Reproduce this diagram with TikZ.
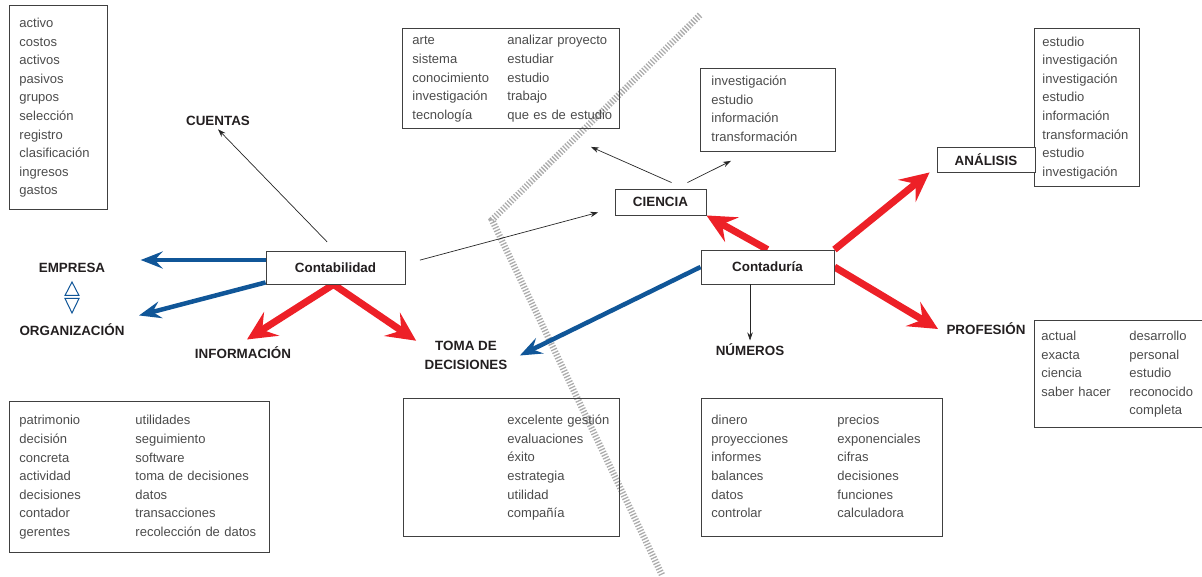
\documentclass[tikz,border=0pt]{standalone}
\usepackage{fontspec}
\setmainfont{Liberation Sans}
\usetikzlibrary{arrows.meta,backgrounds}

\definecolor{mapred}{RGB}{237,32,39}
\definecolor{mapblue}{RGB}{16,86,152}
\definecolor{listgray}{RGB}{75,75,75}
\definecolor{labelblack}{RGB}{35,31,32}

\tikzset{
  listbox/.style={draw=black!75, line width=0.9pt, anchor=north west,
    inner sep=0pt, align=left, text=listgray, font=\fontsize{13}{18.6}\selectfont},
  keybox/.style={draw=black!75, line width=0.9pt, fill=white, inner sep=0pt,
    text=labelblack, font=\bfseries\fontsize{13.4}{15}\selectfont},
  keyword/.style={text=labelblack, align=center, font=\bfseries\fontsize{13.4}{19}\selectfont},
  thin arrow/.style={-{Stealth[length=8pt,width=5.5pt]}, line width=0.7pt, black!85},
  red arrow/.style={-{Stealth[length=29pt,width=28pt,inset=11pt]}, line width=7pt, mapred},
  blue arrow/.style={-{Stealth[length=22pt,width=17pt,inset=8pt]}, line width=4.5pt, mapblue},
  cut line/.style={line width=6.5pt, gray!65, dash pattern=on 1.3pt off 1.7pt}
}

\begin{document}
\begin{tikzpicture}[x=1pt,y=-1pt]
  \useasboundingbox (0,0) rectangle (1202,577);

  % word lists
  \node[listbox, minimum width=98pt, minimum height=204pt, text width=78pt] (cuentaslist) at (9,5)
    {\begin{tabular}{@{}l@{}}activo\\costos\\activos\\pasivos\\grupos\\selección\\registro\\clasificación\\ingresos\\gastos\end{tabular}};
  \node[listbox, minimum width=217pt, minimum height=100pt, text width=197pt] (artlist) at (402,28)
    {\begin{tabular}{@{}p{95pt}@{}l@{}}arte & analizar proyecto\\sistema & estudiar\\conocimiento & estudio\\investigación & trabajo\\tecnología & que es de estudio\end{tabular}};
  \node[listbox, minimum width=135pt, minimum height=83pt, text width=113pt] (invlist) at (700,68)
    {\begin{tabular}{@{}l@{}}investigación\\estudio\\información\\transformación\end{tabular}};
  \node[listbox, minimum width=105pt, minimum height=158pt, text width=89pt] (analisislist) at (1034,28)
    {\begin{tabular}{@{}l@{}}estudio\\investigación\\investigación\\estudio\\información\\transformación\\estudio\\investigación\end{tabular}};
  \node[listbox, minimum width=167.5pt, minimum height=107pt, text width=153.5pt] (profesionlist) at (1034,320)
    {\begin{tabular}{@{}p{88pt}@{}l@{}}actual & desarrollo\\exacta & personal\\ciencia & estudio\\saber hacer & reconocido\\ & completa\end{tabular}};
  \node[listbox, minimum width=260pt, minimum height=151pt, text width=240pt] (patrimoniolist) at (9,401)
    {\begin{tabular}{@{}p{116pt}@{}l@{}}patrimonio & utilidades\\decisión & seguimiento\\concreta & software\\actividad & toma de decisiones\\decisiones & datos\\contador & transacciones\\gerentes & recolección de datos\end{tabular}};
  \node[listbox, minimum width=216pt, minimum height=138pt, text width=196pt] (gestionlist) at (403,398)
    {\begin{tabular}{@{}p{94pt}@{}l@{}} & excelente gestión\\ & evaluaciones\\ & éxito\\ & estrategia\\ & utilidad\\ & compañía\end{tabular}};
  \node[listbox, minimum width=241pt, minimum height=138pt, text width=221pt] (numeroslist) at (701,398)
    {\begin{tabular}{@{}p{126pt}@{}l@{}}dinero & precios\\proyecciones & exponenciales\\informes & cifras\\balances & decisiones\\datos & funciones\\controlar & calculadora\end{tabular}};

  % key boxes
  \node[keybox, minimum width=139pt, minimum height=33pt] (contab) at (335.5,267.5) {Contabilidad};
  \node[keybox, minimum width=133pt, minimum height=34pt] (contad) at (767.5,267) {Contaduría};
  \node[keybox, minimum width=91pt, minimum height=26pt] (ciencia) at (660.5,202) {CIENCIA};
  \node[keybox, minimum width=98pt, minimum height=25pt] (analisis) at (986,159.5) {ANÁLISIS};

  % labels
  \node[keyword] (cuentas) at (218,121) {CUENTAS};
  \node[keyword] (empresa) at (72,268) {EMPRESA};
  \node[keyword] (organizacion) at (72,330) {ORGANIZACIÓN};
  \node[keyword] (informacion) at (243,353) {INFORMACIÓN};
  \node[keyword] (tomadec) at (466,355.5) {TOMA DE\\DECISIONES};
  \node[keyword] (numeros) at (750,350) {NÚMEROS};
  \node[keyword] (profesion) at (986,329) {PROFESIÓN};

  \begin{scope}[on background layer]
    % the dividing cut
    \draw[cut line] (700,15) -- (492,220) -- (662,575);
    % thick arrows
    \draw[blue arrow] ([yshift=7.5pt]contab.west) -- ([xshift=32pt,yshift=8pt]empresa.east);
    \draw[blue arrow] ([yshift=2pt]contab.south west) -- ([xshift=11pt,yshift=5pt]organizacion.north east);
    \draw[red arrow] ([xshift=-2pt]contab.south) -- ([xshift=4pt,yshift=4pt]informacion.north);
    \draw[red arrow] ([xshift=-2pt]contab.south) -- ([xshift=-5pt,yshift=-3pt]tomadec.north west);
    \draw[blue arrow] (contad.west) -- ([xshift=9pt]tomadec.east);
    \draw[red arrow] (contad.north) -- (ciencia.south east);
    \draw[red arrow] (contad.north east) -- ([xshift=-7pt]analisis.south west);
    \draw[red arrow] (contad.east) -- ([xshift=-5pt]profesion.west);
  \end{scope}

  % the double arrow
  \draw[mapblue, line width=1pt, line join=miter] (65,295.5) -- (79,295.5) -- (72,282) -- cycle;
  \draw[mapblue, line width=1pt, line join=miter] (65,298.5) -- (79,298.5) -- (72,313) -- cycle;

  % thin arrows
  \draw[thin arrow, shorten <=12pt] (contab.north) -- (cuentas.south);
  \draw[thin arrow, shorten <=15pt, shorten >=17pt] ([yshift=3.5pt]contab.east) -- ([yshift=-6pt]ciencia.west);
  \draw[thin arrow] ([xshift=11pt,yshift=6pt]ciencia.north) -- ([xshift=-29pt,yshift=-18pt]artlist.south east);
  \draw[thin arrow] ([xshift=27pt,yshift=6pt]ciencia.north) -- ([xshift=31pt,yshift=-9pt]invlist.south west);
  \draw[thin arrow] (numeros.north |- contad.south) -- (numeros.north);
\end{tikzpicture}
\end{document}
